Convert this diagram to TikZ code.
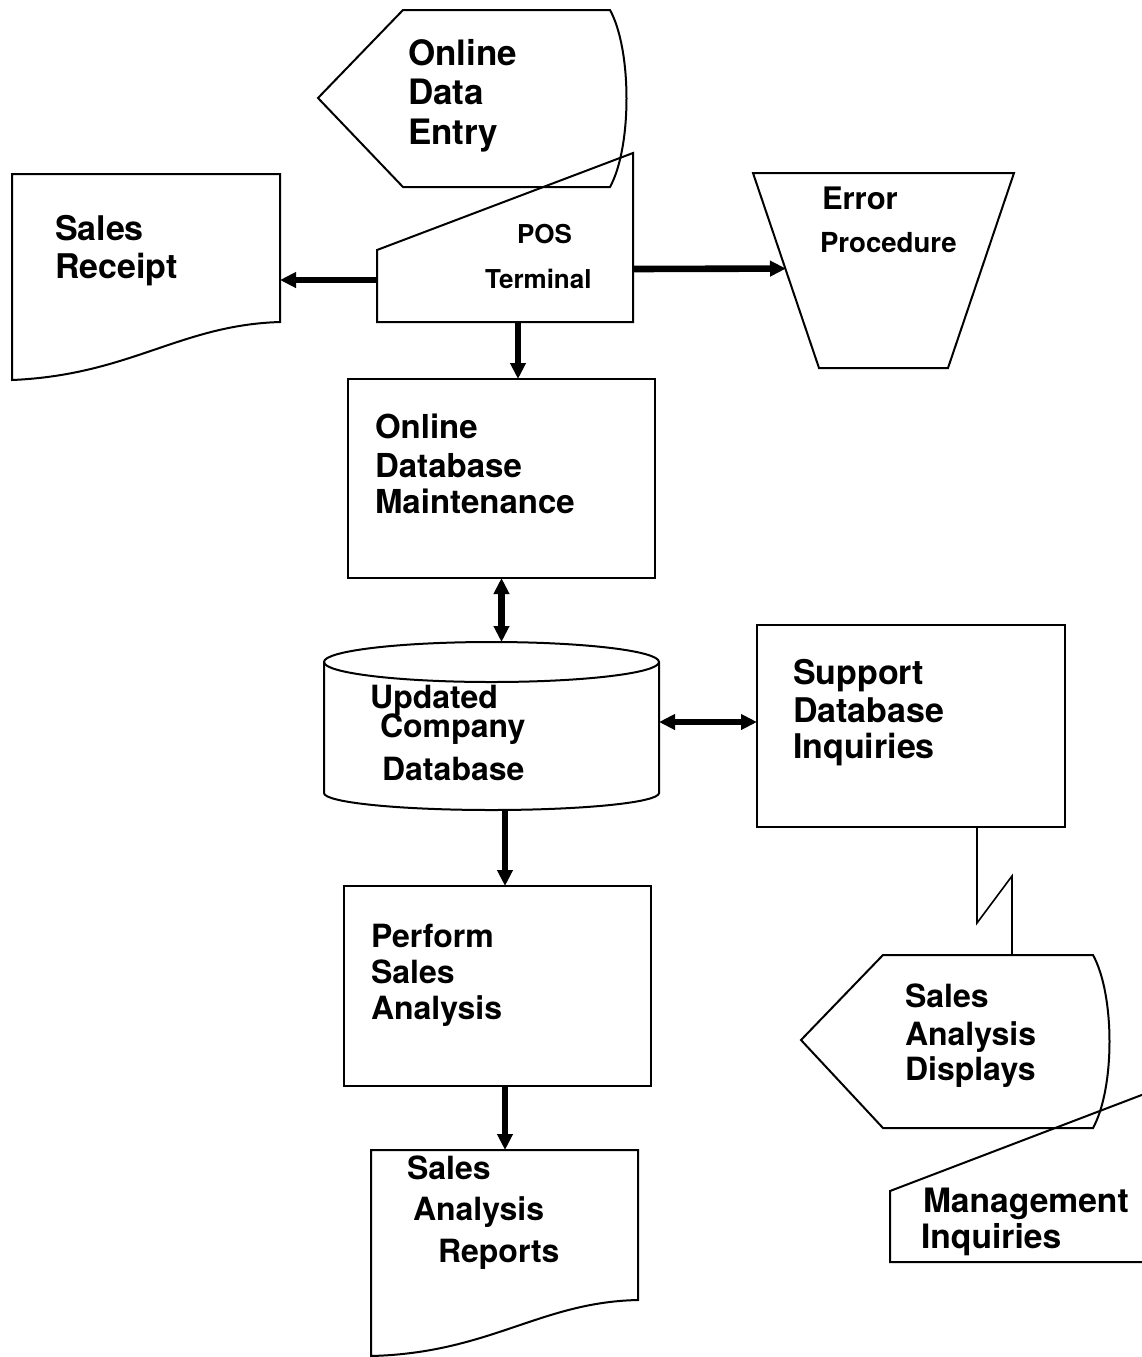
\documentclass[tikz,border=0pt]{standalone}
\usepackage{fontspec}
\setmainfont{TeX Gyre Heros}
\usetikzlibrary{arrows.meta,fit,calc}

\begin{document}
\begin{tikzpicture}[x=0.5pt,y=-0.5pt,
  outline/.style={draw=black, line width=1pt, line join=miter},
  area/.style={inner sep=0pt, outer sep=0pt},
  boxnode/.style={draw=black, line width=1pt, inner sep=0pt, outer sep=0pt},
  flow/.style={line width=3.3pt, -{Triangle[width=7.5pt,length=8pt]}},
  flowboth/.style={line width=3.3pt, {Triangle[width=7.5pt,length=8pt]}-{Triangle[width=7.5pt,length=8pt]}},
  link/.style={line width=0.8pt, line join=miter},
  txt/.style={anchor=base west, inner sep=0pt, outer sep=0pt, font=\bfseries\fontsize{#1}{#1}\selectfont},
]
\useasboundingbox (0,0) rectangle (1142,1357);
\fill[white] (0,0) rectangle (1142,1357);
\clip (0,0) rectangle (1142,1357);

% ---------- online data entry (display symbol)
\node[area, fit={(318,10) (627,187)}] (ode) {};
\draw[outline] (318,98) -- (403,10) -- (610,10)
  .. controls (632,50) and (632,147) .. (610,187) -- (403,187) -- cycle;
\node[txt=17.5] (ode1) at (408,65)  {Online};
\node[txt=17.5] (ode2) at (408,104) {Data};
\node[txt=17.5] (ode3) at (408,144) {Entry};

% ---------- POS terminal (manual input)
\node[area, fit={(377,153) (633,322)}] (pos) {};
\draw[outline] (377,250) -- (633,153) -- (633,322) -- (377,322) -- cycle;
\node[txt=13] (pos1) at (517,243) {POS};
\node[txt=13] (pos2) at (485,288) {Terminal};

% ---------- sales receipt (document)
\node[area, fit={(12,174) (280,380)}] (rcpt) {};
\draw[outline] (12,380) -- (12,174) -- (280,174) -- (280,322)
  .. controls (180,325) and (130,375) .. (12,380) -- cycle;
\node[txt=17] (rcpt1) at (55,240) {Sales};
\node[txt=17] (rcpt2) at (55,278) {Receipt};

% ---------- error procedure (manual operation, inverted trapezoid)
\node[area, fit={(753,173) (1014,368)}] (err) {};
\draw[outline] (err.north west) -- (err.north east)
  -- ($(err.south east)+(-66,0)$) -- ($(err.south west)+(66,0)$) -- cycle;
\node[txt=15.5] (err1) at (822,209) {Error};
\node[txt=13.8] (err2) at (820,252) {Procedure};

% ---------- online database maintenance
\node[boxnode, fit={(348,379) (655,578)}] (dbm) {};
\node[txt=16.5] (dbm1) at (375,438) {Online};
\node[txt=16.5] (dbm2) at (375,477) {Database};
\node[txt=16.5] (dbm3) at (375,513) {Maintenance};

% ---------- updated company database (disk storage)
\node[area, fit={(324,642) (659,810)}] (db) {};
\draw[outline] (491.5,662) ellipse [x radius=167.5, y radius=20];
\draw[outline] (324,662) -- (324,793)
  .. controls (324,802.4) and (399,810) .. (491.5,810)
  .. controls (584,810) and (659,802.4) .. (659,793) -- (659,662);
\node[txt=16] (db1) at (370,708) {Updated};
\node[txt=16] (db2) at (380,737) {Company};
\node[txt=16] (db3) at (382,780) {Database};

% ---------- support database inquiries
\node[boxnode, fit={(757,625) (1065,827)}] (sup) {};
\node[txt=17] (sup1) at (793,684) {Support};
\node[txt=17] (sup2) at (793,722) {Database};
\node[txt=17] (sup3) at (793,758) {Inquiries};

% ---------- perform sales analysis
\node[boxnode, fit={(344,886) (651,1086)}] (perf) {};
\node[txt=16] (perf1) at (371,947)  {Perform};
\node[txt=16] (perf2) at (371,983)  {Sales};
\node[txt=16] (perf3) at (371,1019) {Analysis};

% ---------- sales analysis reports (document)
\node[area, fit={(371,1150) (638,1356)}] (rep) {};
\draw[outline] (371,1356) -- (371,1150) -- (638,1150) -- (638,1300)
  .. controls (540,1302) and (490,1353) .. (371,1356) -- cycle;
\node[txt=16] (rep1) at (407,1179) {Sales};
\node[txt=16] (rep2) at (413,1220) {Analysis};
\node[txt=16] (rep3) at (438,1262) {Reports};

% ---------- sales analysis displays (display symbol)
\node[area, fit={(801,955) (1110,1128)}] (disp) {};
\draw[outline] (801,1040) -- (883,955) -- (1093,955)
  .. controls (1115,995) and (1115,1088) .. (1093,1128) -- (883,1128) -- cycle;
\node[txt=16] (disp1) at (905,1007) {Sales};
\node[txt=16] (disp2) at (905,1045) {Analysis};
\node[txt=16] (disp3) at (905,1080) {Displays};

% ---------- management inquiries (manual input, runs off the right edge)
\node[area, fit={(890,1095) (1142,1262)}] (mgmt) {};
\draw[outline] (1160,1088) -- (890,1191) -- (890,1262) -- (1160,1262);
\node[txt=16.8] (mgmt1) at (923,1212) {Management};
\node[txt=16.8] (mgmt2) at (921,1248) {Inquiries};

% ---------- connectors
\draw[flow] (pos.east |- 0,269) -- ($(err.north west)!0.49!(err.south west)+(33,0)$);
\draw[flow] (pos.west |- 0,280) -- (rcpt.east |- 0,280);
\draw[flow] (pos.south -| 518,0) -- (dbm.north -| 518,0);
\draw[flowboth] (dbm.south) -- (dbm.south |- db.north);
\draw[flowboth] (db.east |- 0,722) -- (sup.west |- 0,722);
\draw[flow] (505,0 |- db.south) -- (505,0 |- perf.north);
\draw[flow] (perf.south -| 505,0) -- (rep.north -| 505,0);
\draw[link] (sup.south -| 977,0) -- (977,923) -- (1012,876) -- (disp.north -| 1012,0);

\end{tikzpicture}
\end{document}
